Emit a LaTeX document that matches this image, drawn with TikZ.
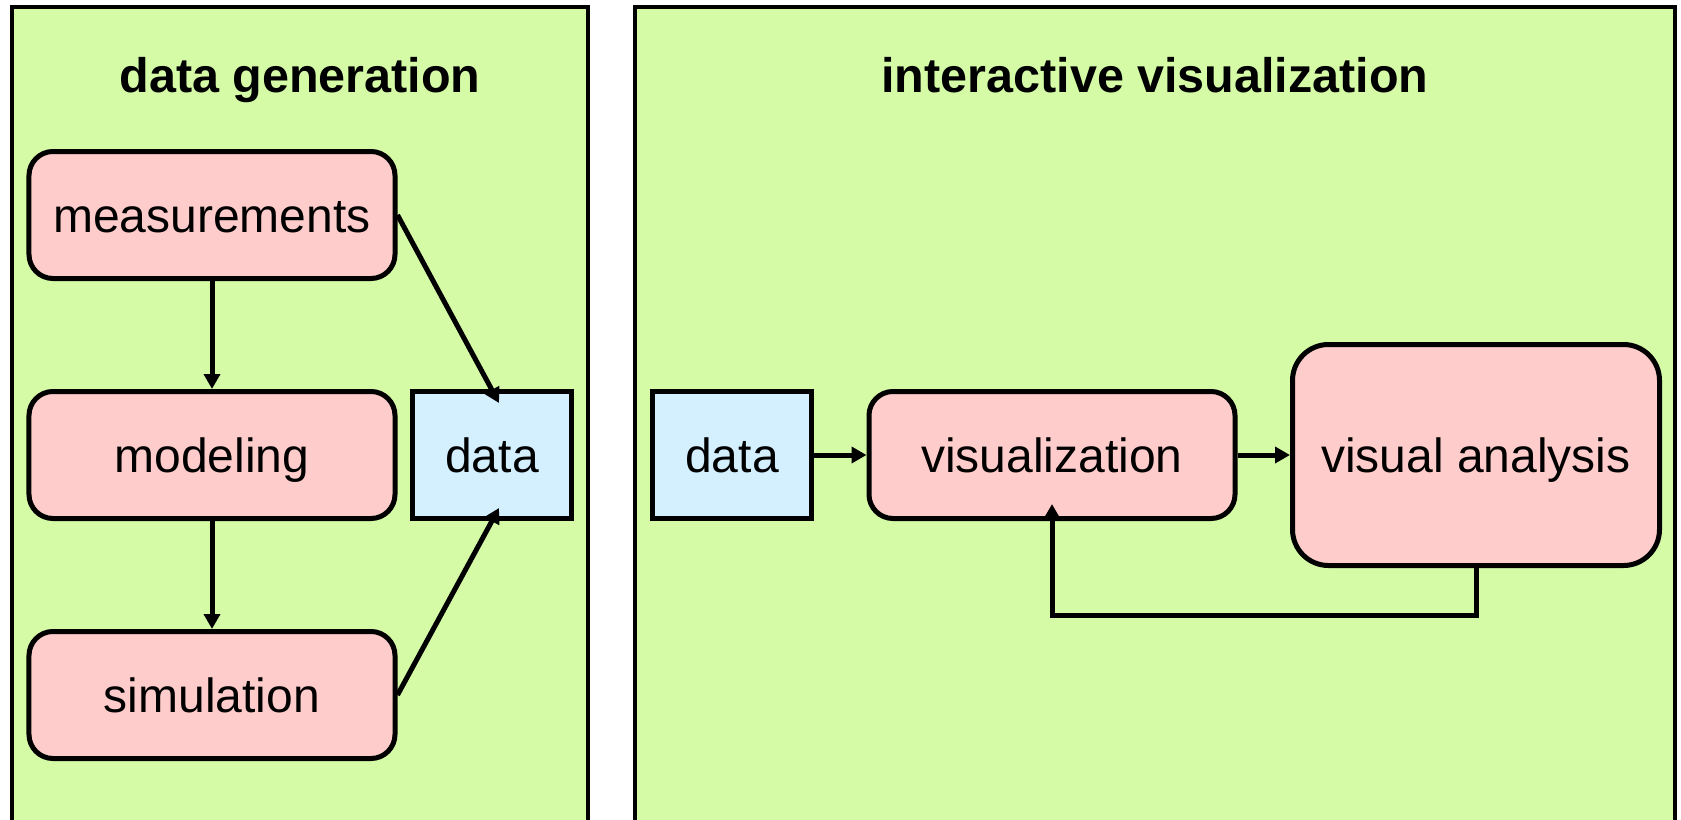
\documentclass[tikz,border=0pt]{standalone}
\usepackage{fontspec}
\setmainfont{Liberation Sans}
\usetikzlibrary{arrows.meta,calc}
\definecolor{panelgreen}{RGB}{213,251,167}
\definecolor{boxpink}{RGB}{255,204,204}
\definecolor{boxblue}{RGB}{212,240,255}
\begin{document}
\begin{tikzpicture}[x=1bp,y=-1bp,
  txt/.style={font=\fontsize{48bp}{56bp}\selectfont, text height=34bp, text depth=0pt, inner sep=0pt},
  proc/.style={txt, draw=black, line width=5bp, fill=boxpink, rounded corners=24bp,
    minimum width=366bp, minimum height=127bp},
  datab/.style={txt, draw=black, line width=5bp, fill=boxblue,
    minimum width=159bp, minimum height=127bp},
  panel/.style={draw=black, line width=4.5bp, fill=panelgreen},
  arr/.style={line width=5bp, -{Triangle[length=15bp,width=16bp]}},
  ttl/.style={font=\bfseries\fontsize{48.5bp}{56bp}\selectfont, anchor=base, inner sep=0pt}]
\fill[white] (0,0) rectangle (1681,820);
\clip (0,0) rectangle (1681,820);
% panels
\draw[panel] (12,7) rectangle (588,850);
\draw[panel] (635,7) rectangle (1675,850);
\node[ttl] (t1) at (300,92) {data generation};
\node[ttl] (t2) at (1155,92) {interactive visualization};
% left nodes
\node[proc] (meas) at (212,215) {measurements};
\node[proc] (model) at (212,455) {modeling};
\node[proc] (sim) at (212,695) {simulation};
\node[datab] (dataL) at (492,455) {data};
% right nodes
\node[datab] (dataR) at (732,455) {data};
\node[proc] (vis) at (1052,455) {visualization};
\node[proc, minimum width=367bp, minimum height=221bp, rounded corners=36bp] (va) at (1476,455) {visual analysis};
% connectors
\draw[arr] (meas.south) -- (model.north);
\draw[arr] (model.south) -- (sim.north);
\draw[arr] (meas.east) -- ($(dataL.north)+(7,14)$);
\draw[arr] (sim.east) -- ($(dataL.south)+(7,-13)$);
\draw[arr] (dataR.east) -- (vis.west);
\draw[arr] (vis.east) -- (va.west);
\draw[arr] (va.south) -- ++(0,47) -| ($(vis.south)+(0,-17)$);
\end{tikzpicture}
\end{document}
